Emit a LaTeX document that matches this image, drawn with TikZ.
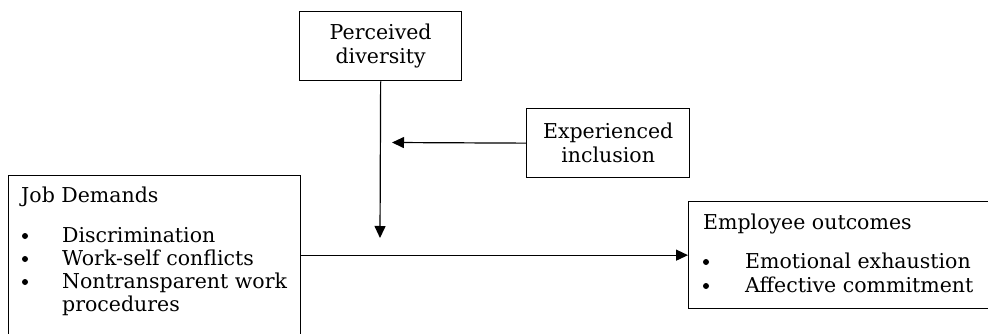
\documentclass[tikz,border=0pt]{standalone}
\usepackage{fontspec}
\setmainfont{DejaVu Serif}
\usetikzlibrary{arrows.meta,calc}
\begin{document}
\begin{tikzpicture}[x=1pt,y=-1pt,
  box/.style={draw,line width=1.3pt,rectangle,inner sep=0pt,anchor=north west},
  lbl/.style={inner sep=0pt,anchor=base west,font=\fontsize{20.5}{24}\selectfont},
  ctr/.style={inner sep=0pt,align=center,font=\fontsize{20.5}{24}\selectfont},
  dot/.style={circle,fill,inner sep=0pt,minimum size=6pt},
  link/.style={line width=1.2pt,-{Triangle[length=12pt,width=11pt]}}]
\useasboundingbox (0,0) rectangle (988,334);

% boxes
\node[box,minimum width=162pt,minimum height=69pt] (pd) at (299,11) {};
\node[box,minimum width=163pt,minimum height=69pt] (ei) at (526,108) {};
\node[box,minimum width=292pt,minimum height=170pt] (jd) at (8,175) {};
\node[box,minimum width=302pt,minimum height=107pt] (eo) at (688,201) {};

% centred labels
\node[ctr] (pdt) at (pd.center) {Perceived\\diversity};
\node[ctr] (eit) at (ei.center) {Experienced\\inclusion};

% job demands list
\node[lbl] (jdt) at (21,202) {Job Demands};
\node[dot] (jb1) at (25,236) {};
\node[lbl] (ji1) at (62,242) {Discrimination};
\node[dot] (jb2) at (25,259) {};
\node[lbl] (ji2) at (62,265) {Work-self conflicts};
\node[dot] (jb3) at (25,282) {};
\node[lbl] (ji3) at (62,288) {Nontransparent work};
\node[lbl] (ji4) at (62,311) {procedures};

% employee outcomes list
\node[lbl] (eot) at (703,229) {Employee outcomes};
\node[dot] (eb1) at (706,262) {};
\node[lbl] (ei1) at (745,268) {Emotional exhaustion};
\node[dot] (eb2) at (706,286) {};
\node[lbl] (ei2) at (745,292) {Affective commitment};

% connectors
\coordinate (mod) at (380,238);
\coordinate (inc) at (392,142.5);
\draw[link] (pd.south) -- (mod);
\draw[link] (ei.west) -- (inc);
\draw[link] (jd.north east |- eo.west) -- (eo.west);
\end{tikzpicture}
\end{document}
